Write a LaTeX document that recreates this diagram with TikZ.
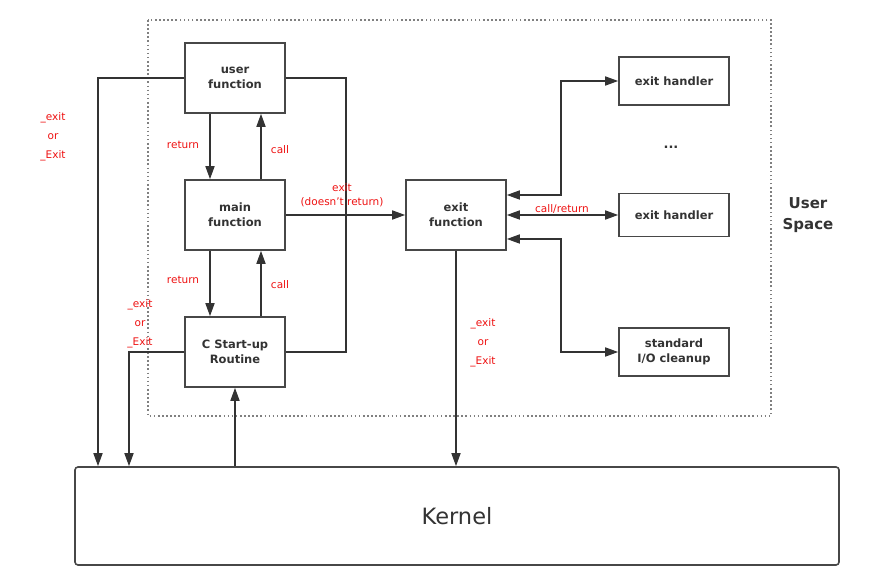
\documentclass[tikz,border=0pt]{standalone}
\usepackage{fontspec}
\setmainfont{DejaVu Sans}
\usetikzlibrary{arrows.meta,positioning}
\definecolor{ink}{HTML}{333333}
\definecolor{lbl}{HTML}{EE1111}

\begin{document}
\begin{tikzpicture}
        [x=1pt,y=-1pt,
         box/.style={draw=ink!90, line width=1.6pt, text=ink, align=center,
           font=\fontsize{11.5}{15}\selectfont\bfseries, inner sep=0pt,
           minimum width=100pt, minimum height=70pt},
         handler/.style={box, minimum width=110pt, minimum height=48pt},
         note/.style={text=lbl, align=center, inner sep=0pt,
           font=\fontsize{10.5}{19}\selectfont},
         link/.style={draw=ink, line width=1.6pt,
           >={Triangle[length=13pt,width=9pt]}}]
        \useasboundingbox (0,0) rectangle (876,585);
        %\draw[help lines] (0,0) grid (876,585);
        \draw[gray, line width=1.6pt, dash pattern=on 1.6pt off 2.5pt]
          (148,20) rectangle (771,416);
        \node[box] (uf) at (235,78) {user\\function};
        \node[box] (mf) at (235,215) {main\\function};
        \node[box] (cs) at (235,352) {C Start-up\\Routine};
        \node[box] (ef) at (456,215) {exit\\function};
        \node[handler] (eh1) at (674,81) {exit handler};
        \node[handler, minimum height=43pt] (eh2) at (674,215) {exit handler};
        \node[handler] (io) at (674,352) {standard\\I/O cleanup};
        \node[box, rounded corners=3pt, minimum width=764pt, minimum height=98pt,
          font=\fontsize{22.5}{26}\selectfont] (kernel) at (457,516) {Kernel};
        \node[text=ink, font=\fontsize{13}{15}\selectfont\bfseries] (dots) at (671,147) {...};
        \node[text=ink, align=center, font=\fontsize{15}{21}\selectfont\bfseries]
          (us) at (808,215) {User\\Space};
        % user <-> main <-> start-up
        \draw[link,->] ([xshift=-25pt]uf.south) -- ([xshift=-25pt]mf.north);
        \draw[link,->] ([xshift=26pt]mf.north) -- ([xshift=26pt]uf.south);
        \draw[link,->] ([xshift=-25pt]mf.south) -- ([xshift=-25pt]cs.north);
        \draw[link,->] ([xshift=26pt]cs.north) -- ([xshift=26pt]mf.south);
        \node[note] (r1) at (183,145) {return};
        \node[note] (c1) at (280,150) {call};
        \node[note] (r2) at (183,280) {return};
        \node[note] (c2) at (280,285) {call};
        % to the kernel
        \coordinate (k1) at (98,0);
        \coordinate (k2) at (129,0);
        \coordinate (rx) at (346,0);
        \draw[link,->] (uf.west) -| (k1 |- kernel.north);
        \draw[link,->] (cs.west) -| (k2 |- kernel.north);
        \draw[link,->] (cs.south |- kernel.north) -- (cs.south);
        \draw[link] (uf.east) -| (rx |- cs.east) -- (cs.east);
        \node[note] (x1) at (53,137) {\_exit\\or\\\_Exit};
        \node[note] (x2) at (140,324) {\_exit\\or\\\_Exit};
        % exit function
        \draw[link,->] (mf.east) -- (ef.west);
        \node[note, font=\fontsize{10.5}{14}\selectfont] (ex) at (342,195) {exit\\(doesn't return)};
        \draw[link,->] (ef.south) -- (ef.south |- kernel.north);
        \node[note] (x3) at (483,343) {\_exit\\or\\\_Exit};
        \draw[link,<->] ([yshift=20pt]ef.east) -| ([xshift=-57pt]eh1.west) -- (eh1.west);
        \draw[link,<->] (ef.east) -- (eh2.west);
        \draw[link,<->] ([yshift=-24pt]ef.east) -| ([xshift=-57pt]io.west) -- (io.west);
        \node[note] (cr) at (562,209) {call/return};
      \end{tikzpicture}
\end{document}
